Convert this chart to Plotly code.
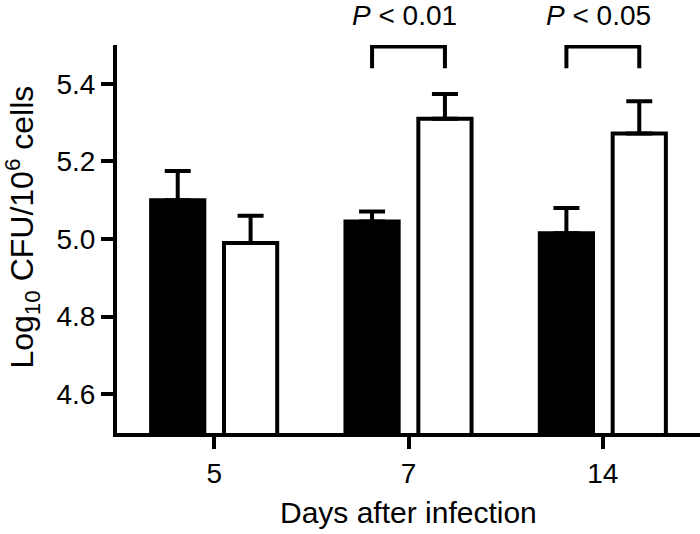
import plotly.graph_objects as go

# data
days = ["5", "7", "14"]
control_mean = [5.10, 5.045, 5.015]
control_sem = [0.075, 0.026, 0.065]
treated_mean = [4.99, 5.31, 5.272]
treated_sem = [0.07, 0.064, 0.083]
p_labels = [None, "<i>P</i> < 0.01", "<i>P</i> < 0.05"]

FONT = "Liberation Sans, Arial, sans-serif"
BAR_GAP = 0.25
GROUP_GAP = 0.27
LINE_W = 4

x_idx = list(range(len(days)))

fig = go.Figure()

fig.add_trace(
    go.Bar(
        x=x_idx,
        y=control_mean,
        marker=dict(color="black", line=dict(color="black", width=LINE_W)),
        error_y=dict(
            type="data",
            symmetric=False,
            array=control_sem,
            arrayminus=[0] * len(days),
            color="black",
            thickness=LINE_W,
            width=13,
        ),
        showlegend=False,
    )
)
fig.add_trace(
    go.Bar(
        x=x_idx,
        y=treated_mean,
        marker=dict(color="white", line=dict(color="black", width=LINE_W)),
        error_y=dict(
            type="data",
            symmetric=False,
            array=treated_sem,
            arrayminus=[0] * len(days),
            color="black",
            thickness=LINE_W,
            width=13,
        ),
        showlegend=False,
    )
)

# significance brackets between bar centres
offset = (1 - BAR_GAP) / 4
for i, label in enumerate(p_labels):
    if label is None:
        continue
    x0, x1 = i - offset, i + offset
    fig.add_shape(
        type="path",
        path=f"M {x0},5.44 L {x0},5.496 L {x1},5.496 L {x1},5.44",
        xref="x",
        yref="y",
        line=dict(color="black", width=LINE_W),
    )
    fig.add_annotation(
        x=i - 0.02,
        y=1.0765,
        xref="x",
        yref="paper",
        text=label,
        showarrow=False,
        font=dict(size=28, color="black", family=FONT),
        xanchor="center",
        yanchor="middle",
    )

# axis titles
fig.add_annotation(
    x=-0.162,
    y=0.531,
    xref="paper",
    yref="paper",
    text="Log<sub>10</sub> CFU/10<sup>6</sup> cells",
    textangle=-90,
    showarrow=False,
    font=dict(size=32, color="black", family=FONT),
    xanchor="center",
    yanchor="middle",
)
fig.add_annotation(
    x=0.5,
    y=-0.205,
    xref="paper",
    yref="paper",
    text="Days after infection",
    showarrow=False,
    font=dict(size=30, color="black", family=FONT),
    xanchor="center",
    yanchor="middle",
)

fig.update_layout(
    width=700,
    height=534,
    margin=dict(l=117, r=0, t=45, b=101),
    paper_bgcolor="white",
    plot_bgcolor="white",
    barmode="group",
    bargap=BAR_GAP,
    bargroupgap=GROUP_GAP,
    font=dict(family=FONT, size=28, color="black"),
)

fig.update_xaxes(
    range=[-0.5, 2.5],
    tickvals=x_idx,
    ticktext=days,
    showline=True,
    linecolor="black",
    linewidth=LINE_W,
    ticks="outside",
    ticklen=12,
    tickwidth=3.5,
    tickcolor="black",
    showgrid=False,
    zeroline=False,
)
fig.update_yaxes(
    range=[4.5, 5.5],
    tickvals=[4.6, 4.8, 5.0, 5.2, 5.4],
    tickformat=".1f",
    showline=True,
    linecolor="black",
    linewidth=LINE_W,
    ticks="outside",
    ticklen=12,
    tickwidth=LINE_W,
    tickcolor="black",
    showgrid=False,
    zeroline=False,
)

# drop the browser's default 8px body margin so the figure fills the window
fig.write_html(
    "out.html",
    config={"displayModeBar": False},
    post_script="document.body.style.margin='0';",
)
